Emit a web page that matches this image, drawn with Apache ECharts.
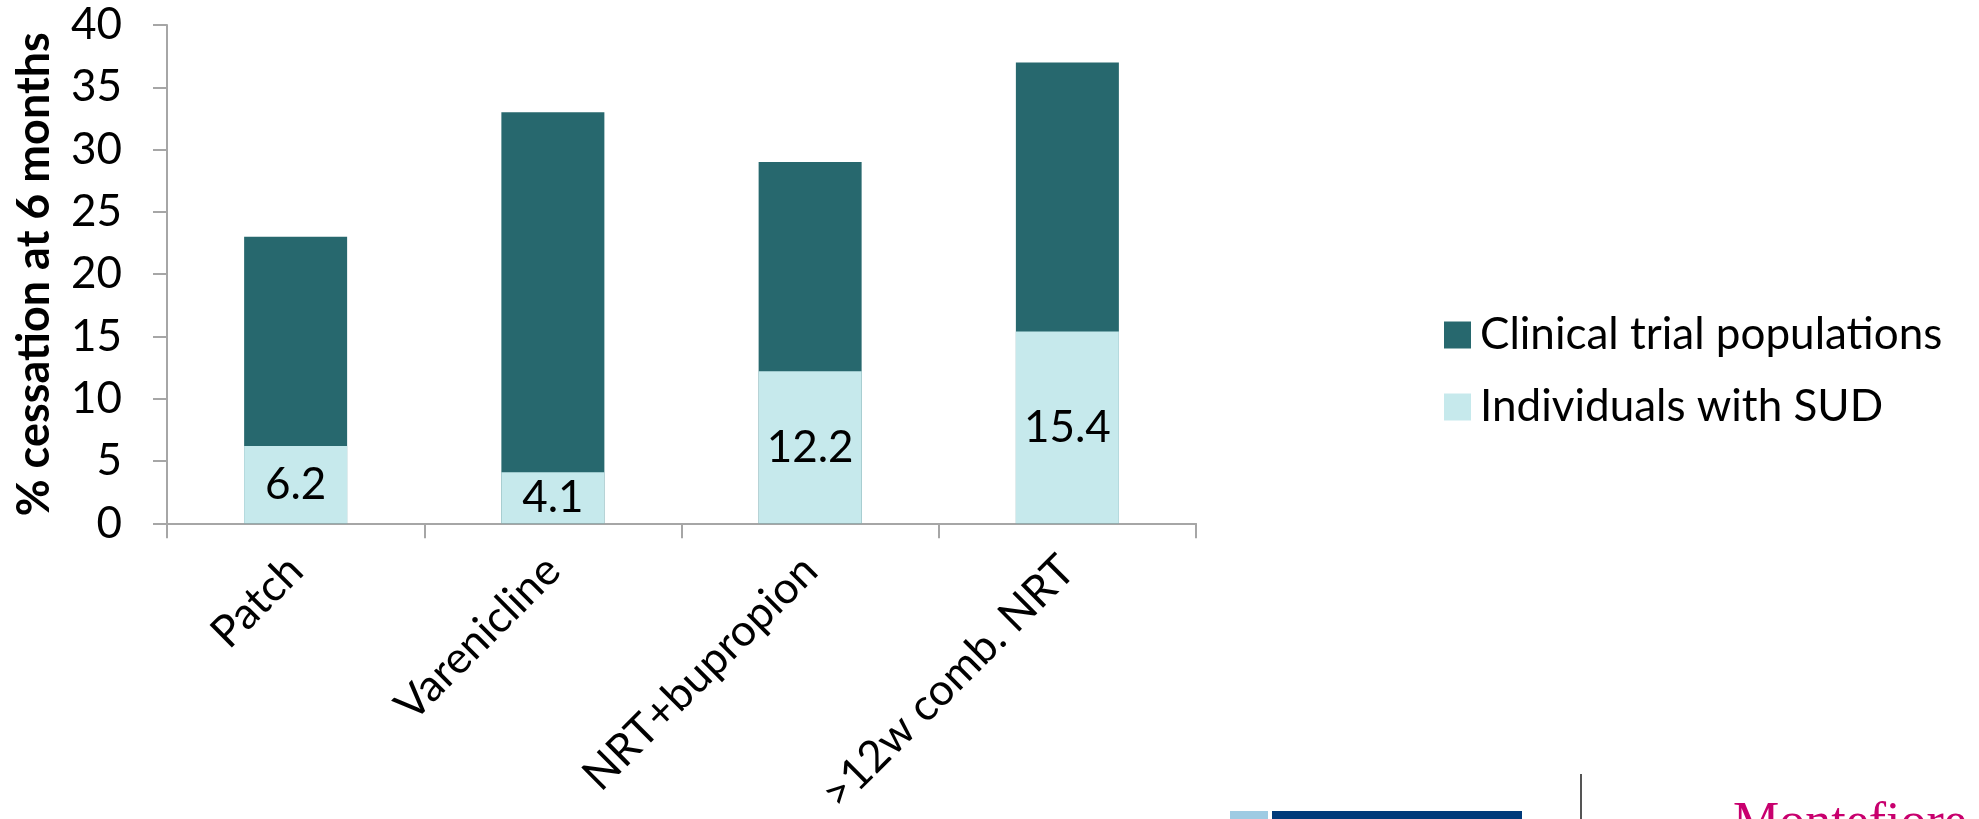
<!DOCTYPE html>
<html>
<head>
<meta charset="utf-8">
<script src="https://cdn.jsdelivr.net/npm/echarts@6/dist/echarts.min.js"></script>
<style>
html,body{margin:0;padding:0;background:#fff;}
#c{width:1979px;height:819px;}
</style>
</head>
<body>
<div id="c"></div>
<script>
const categories = ['Patch', 'Varenicline', 'NRT+bupropion', '>12w comb. NRT'];
const clinicalTrial = [23, 33, 29, 37];
const sudValues = [6.2, 4.1, 12.2, 15.4];
const seriesNames = ['Clinical trial populations', 'Individuals with SUD'];
const yAxisName = '% cessation at 6 months';

const FONT = 'Lato, "Open Sans", sans-serif';
const chart = echarts.init(document.getElementById('c'));
chart.setOption({
  backgroundColor: '#fff',
  animation: false,
  grid: { left: 167, right: 783, top: 25, bottom: 294 },
  legend: {
    orient: 'vertical',
    left: 1439,
    top: 308,
    itemWidth: 27,
    itemHeight: 27,
    itemGap: 28,
    icon: 'rect',
    textStyle: { fontFamily: FONT, fontSize: 44, color: '#000', padding: [0, 0, 0, 4] },
    data: seriesNames
  },
  xAxis: {
    type: 'category',
    data: categories,
    axisLine: { lineStyle: { color: '#a6a6a6', width: 2 } },
    axisTick: { show: true, length: 15, lineStyle: { color: '#a6a6a6', width: 2 } },
    axisLabel: { rotate: 45, margin: 40, fontFamily: FONT, fontSize: 44, color: '#000', interval: 0 }
  },
  yAxis: {
    type: 'value',
    min: 0, max: 40, interval: 5,
    name: yAxisName,
    nameLocation: 'middle',
    nameGap: 110,
    nameRotate: 90,
    nameTextStyle: { fontFamily: FONT, fontSize: 45, fontWeight: 'bold', color: '#000' },
    splitLine: { show: false },
    axisLine: { show: true, lineStyle: { color: '#a6a6a6', width: 2 } },
    axisTick: { show: true, length: 14, lineStyle: { color: '#a6a6a6', width: 2 } },
    axisLabel: { fontFamily: FONT, fontSize: 44, color: '#000', margin: 45 }
  },
  series: [
    {
      name: seriesNames[0],
      type: 'bar',
      data: clinicalTrial,
      barWidth: 103,
      barGap: '-100%',
      itemStyle: { color: '#27686e' },
      z: 1
    },
    {
      name: seriesNames[1],
      type: 'bar',
      data: sudValues,
      barWidth: 103,
      barGap: '-100%',
      itemStyle: { color: '#c6e9ec' },
      label: { show: true, position: 'inside', fontFamily: FONT, fontSize: 44, color: '#000' },
      z: 2
    }
  ],
  graphic: [
    { type: 'rect', shape: { x: 1230, y: 811, width: 38, height: 10 }, style: { fill: '#9ecbe3' } },
    { type: 'rect', shape: { x: 1272, y: 811, width: 250, height: 10 }, style: { fill: '#003a7a' } },
    { type: 'line', shape: { x1: 1581, y1: 774, x2: 1581, y2: 819 }, style: { stroke: '#555', lineWidth: 2 } },
    { type: 'text', left: 1733, top: 798, style: { text: 'Montefiore', fill: '#c8006e', font: '52px "Liberation Serif", serif' } }
  ]
});
</script>
</body>
</html>
